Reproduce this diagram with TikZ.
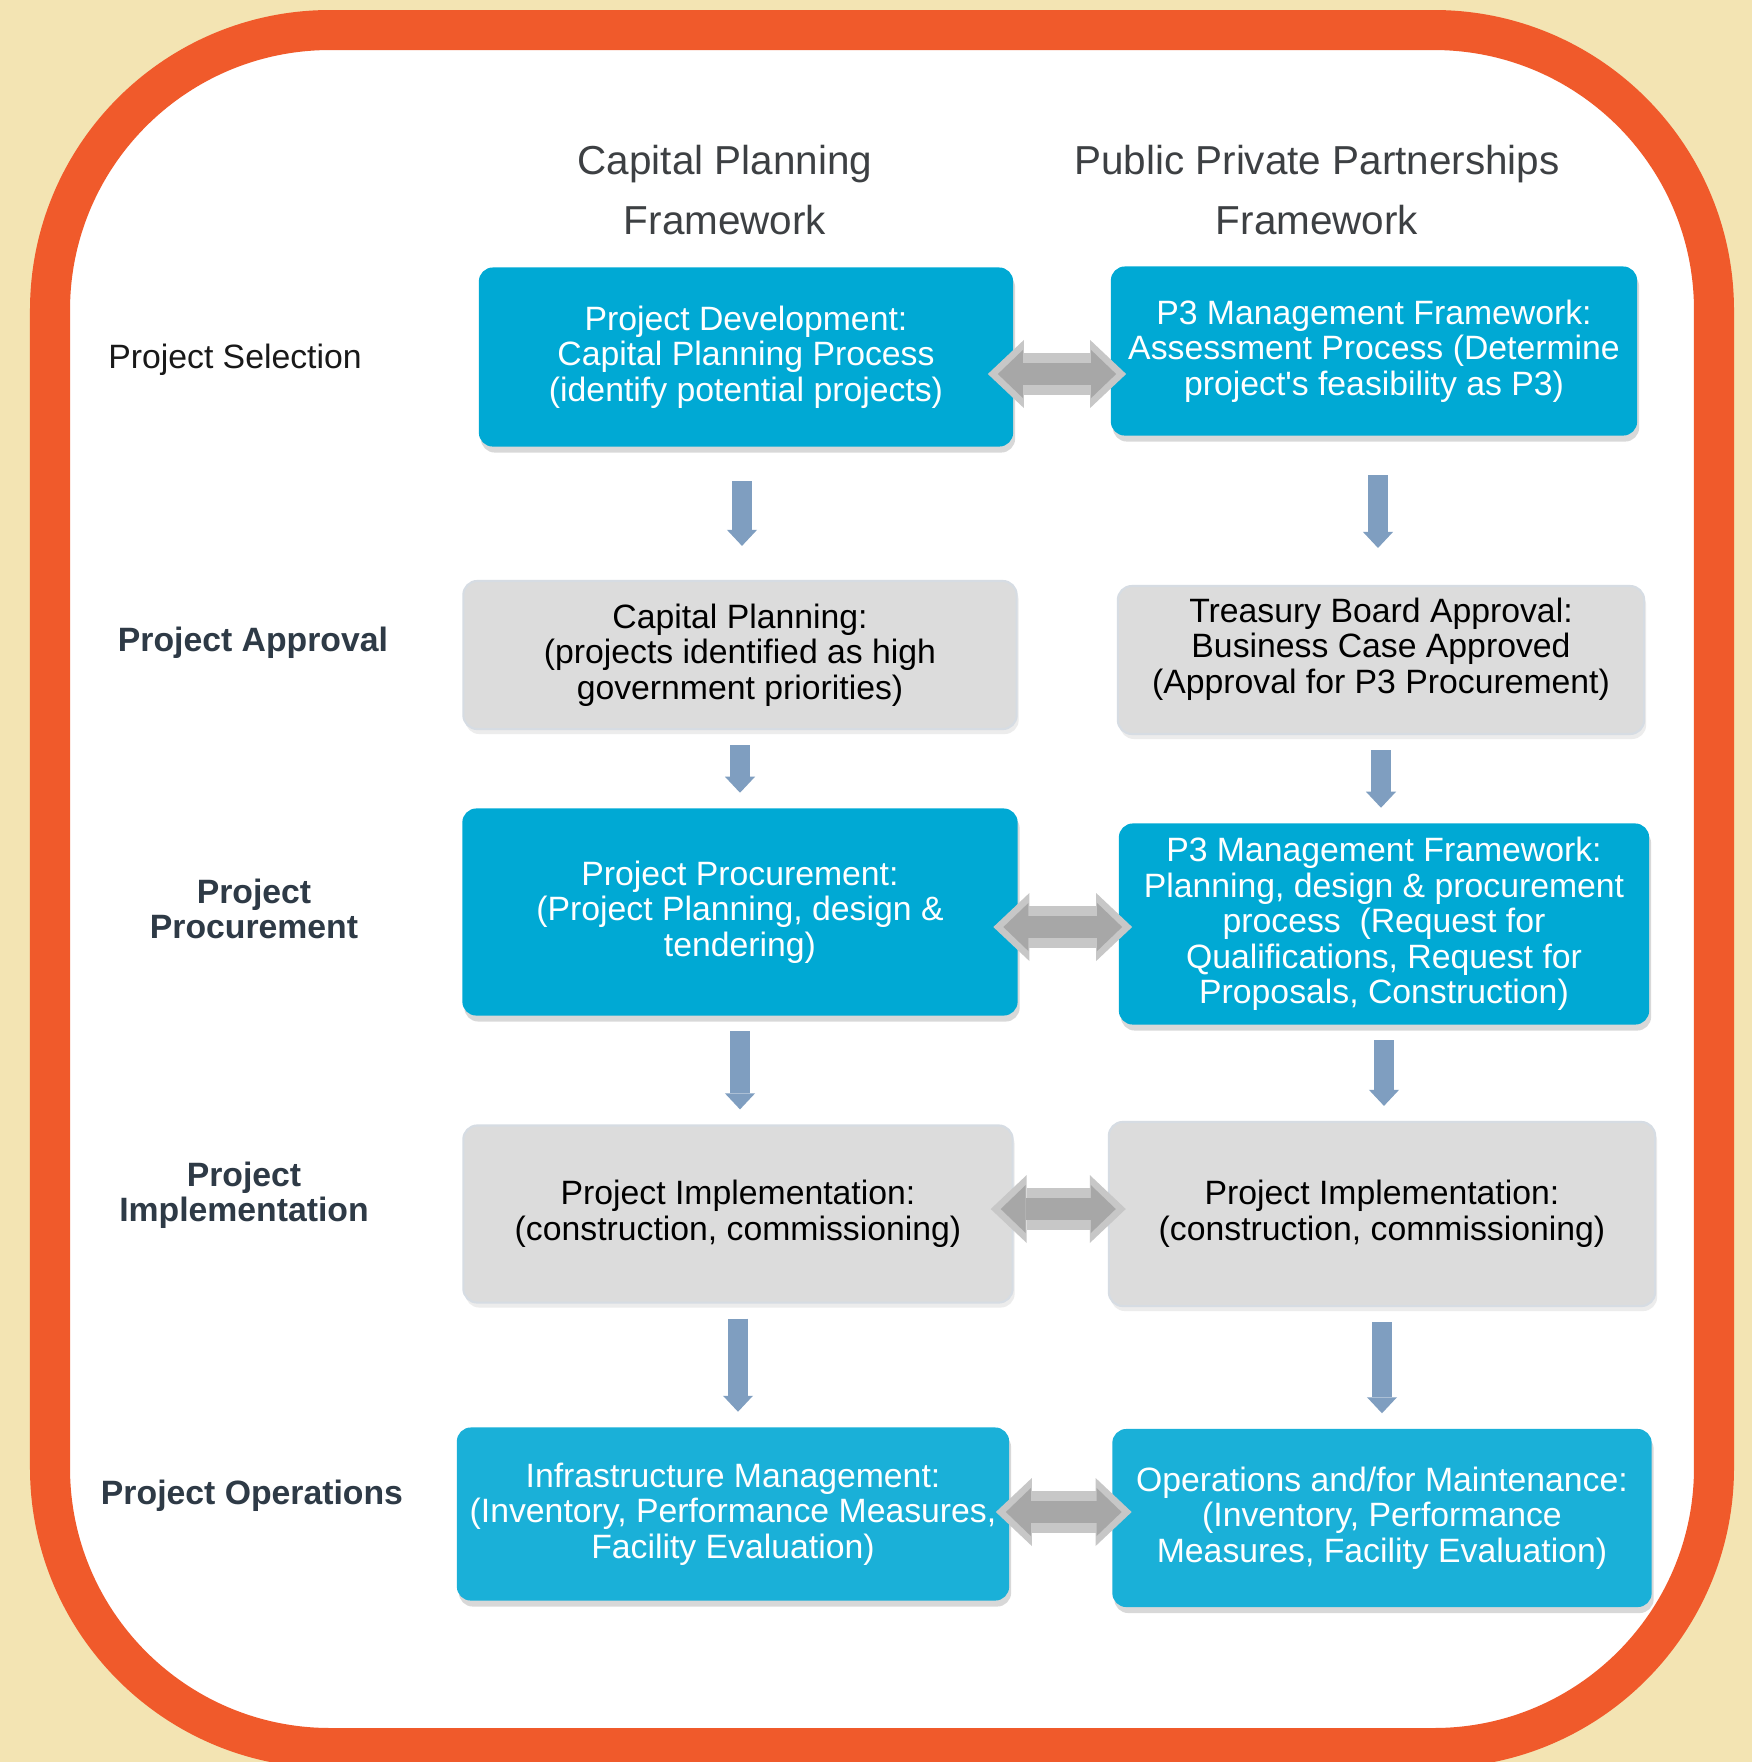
\documentclass[tikz,border=0pt]{standalone}
\usepackage{fontspec}
\setmainfont{Liberation Sans}
\usetikzlibrary{arrows.meta, shadows}

\definecolor{paper}{HTML}{F3E4B3}
\definecolor{frameorange}{HTML}{F05A2B}
\definecolor{cellblue}{HTML}{00A9D4}
\definecolor{cellbluelight}{HTML}{1AB0D8}
\definecolor{cellgrey}{HTML}{DCDCDC}
\definecolor{cellgreyedge}{HTML}{D6DCE3}
\definecolor{stageslate}{HTML}{2E3A46}
\definecolor{headgrey}{HTML}{3D4043}
\definecolor{flowsteel}{HTML}{7F9EC0}
\definecolor{swaplight}{HTML}{C7C7C7}
\definecolor{swapdark}{HTML}{A7A7A7}

\newcommand{\cellfont}{\fontsize{9.6}{10.1}\selectfont}
\newcommand{\headfont}{\fontsize{11.5}{17.3}\selectfont}
\newcommand{\stagefont}{\fontsize{9.6}{10}\selectfont\bfseries}

\tikzstyle{bluecell} = [
    rectangle,
    rounded corners=0.14cm,
    fill=cellblue,
    text=white,
    font=\cellfont,
    align=center,
    drop shadow={shadow xshift=0.02cm, shadow yshift=-0.06cm, opacity=0.3}
]
\tikzstyle{greycell} = [
    rectangle,
    rounded corners=0.14cm,
    fill=cellgrey,
    draw=cellgreyedge,
    line width=0.6pt,
    text=black,
    font=\cellfont,
    align=center,
    drop shadow={shadow xshift=0.02cm, shadow yshift=-0.05cm, opacity=0.15}
]
\tikzstyle{heading} = [
    font=\headfont,
    text=headgrey,
    align=center
]
\tikzstyle{stage} = [
    font=\stagefont,
    text=stageslate,
    align=center
]
\tikzstyle{flow} = [
    line width=0.2cm,
    draw=flowsteel,
    -{Triangle[width=0.3cm, length=0.16cm, line width=0pt]},
    shorten <=0.15cm,
    shorten >=0.15cm
]
\tikzstyle{swapouter} = [
    line width=0.42cm,
    draw=swaplight,
    {Triangle[width=0.68cm, length=0.36cm, line width=0pt]}-{Triangle[width=0.68cm, length=0.36cm, line width=0pt]}
]
\tikzstyle{swapinner} = [
    line width=0.22cm,
    draw=swapdark,
    {Triangle[width=0.48cm, length=0.25cm, line width=0pt]}-{Triangle[width=0.48cm, length=0.25cm, line width=0pt]},
    shorten <=0.1cm,
    shorten >=0.1cm
]
% two-way grey arrow between the frameworks
\newcommand{\pairarrow}[2]{
    \draw[swapouter] #1 -- #2;
    \draw[swapinner] #1 -- #2;
}

\begin{document}
\begin{tikzpicture}[x=0.01cm, y=-0.01cm]

\useasboundingbox (0,0) rectangle (1752,1762);
\fill[paper] (0,0) rectangle (1752,1762);
\draw[frameorange, line width=0.4cm, fill=white, rounded corners=2.8cm]
    (50,30) rectangle (1714,1748);

% column headings
\node (cphead) [heading] at (725,190) {Capital Planning\\Framework};
\node (pphead) [heading] at (1317,190) {Public Private Partnerships\\Framework};

% stages down the left side
\node (selection) [stage, font=\cellfont, text=black!90] at (235,360) {Project Selection};
\node (approval) [stage] at (253,643) {Project Approval};
\node (procurement) [stage] at (254,909) {Project\\Procurement};
\node (implementation) [stage] at (244,1195) {Project\\Implementation};
\node (operations) [stage] at (252,1496) {Project Operations};

% capital planning column
\node (l1) [bluecell, minimum width=5.34cm, minimum height=1.79cm] at (746,357)
{Project Development:\\Capital Planning Process\\(identify potential projects)};

\node (l2) [greycell, minimum width=5.53cm, minimum height=1.48cm] at (740,655)
{Capital Planning:\\(projects identified as high\\government priorities)};

\node (l3) [bluecell, minimum width=5.55cm, minimum height=2.07cm] at (740,912)
{Project Procurement:\\(Project Planning, design \&\\tendering)};

\node (l4) [greycell, minimum width=5.49cm, minimum height=1.77cm] at (738,1214)
{Project Implementation:\\(construction, commissioning)};

\node (l5) [bluecell, fill=cellbluelight, minimum width=5.52cm, minimum height=1.73cm] at (733,1514)
{Infrastructure Management:\\(Inventory, Performance Measures,\\Facility Evaluation)};

% P3 column
\node (r1) [bluecell, minimum width=5.26cm, minimum height=1.69cm] at (1374,351)
{P3 Management Framework:\\Assessment Process (Determine\\project\textquotesingle s feasibility as P3)};

\node (r2) [greycell, minimum width=5.26cm, minimum height=1.45cm, text depth=0.29cm] at (1381,660)
{Treasury Board Approval:\\Business Case Approved\\(Approval for P3 Procurement)};

\node (r3) [bluecell, minimum width=5.30cm, minimum height=2.01cm] at (1384,924)
{P3 Management Framework:\\Planning, design \& procurement\\process\ \ (Request for\\Qualifications, Request for\\Proposals, Construction)};

\node (r4) [greycell, minimum width=5.46cm, minimum height=1.84cm] at (1382,1214)
{Project Implementation:\\(construction, commissioning)};

\node (r5) [bluecell, fill=cellbluelight, minimum width=5.39cm, minimum height=1.78cm] at (1382,1518)
{Operations and/for Maintenance:\\(Inventory, Performance\\Measures, Facility Evaluation)};

% steps down each column
\draw [flow, shorten <=0.34cm, shorten >=0.34cm] ([xshift=-0.04cm]l1.south) -- ([xshift=-0.04cm]l1.south |- l2.north);
\draw [flow] (l2.south) -- (l2.south |- l3.north);
\draw [flow] (l3.south) -- (l3.south |- l4.north);
\draw [flow] (l4.south) -- (l4.south |- l5.north);

\draw [flow, shorten <=0.39cm, shorten >=0.37cm] ([xshift=0.04cm]r1.south) -- ([xshift=0.04cm]r1.south |- r2.north);
\draw [flow] (r2.south) -- (r2.south |- r3.north);
\draw [flow] (r3.south) -- (r3.south |- r4.north);
\draw [flow] (r4.south) -- (r4.south |- r5.north);

% links across
\pairarrow{([shift={(-26,17)}]l1.east)}{([shift={(16,23)}]r1.west)}
\pairarrow{([shift={(-25,15)}]l3.east)}{([shift={(14,3)}]r3.west)}
\pairarrow{([shift={(-23,-5)}]l4.east)}{([shift={(18,-5)}]r4.west)}
\pairarrow{([shift={(-14,-2)}]l5.east)}{([shift={(20,-6)}]r5.west)}

\end{tikzpicture}
\end{document}
